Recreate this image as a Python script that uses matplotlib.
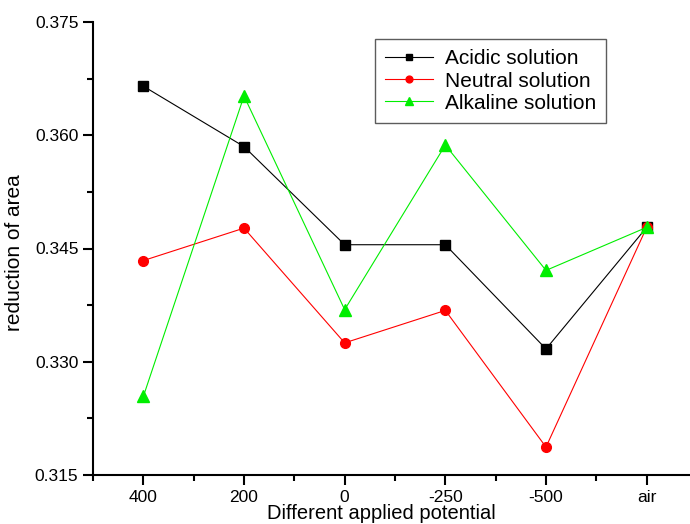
import matplotlib
matplotlib.use('Agg')
import matplotlib.pyplot as plt
from matplotlib.ticker import MultipleLocator, FormatStrFormatter
import numpy as np

plt.rcParams['font.family'] = ['Liberation Sans', 'DejaVu Sans']

potentials = ['400', '200', '0', '-250', '-500', 'air']
acidic = [0.3665, 0.3585, 0.3455, 0.3455, 0.3317, 0.3478]
neutral = [0.3434, 0.3477, 0.3325, 0.3368, 0.3187, 0.3478]
alkaline = [0.3254, 0.3652, 0.3369, 0.3587, 0.3421, 0.3478]

x = np.arange(1, len(potentials) + 1)

fig = plt.figure(figsize=(6.9, 5.24), dpi=100)
ax = fig.add_axes([93 / 690, 1 - 475 / 524, (697 - 93) / 690, (475 - 22) / 524])

ax.plot(x, acidic, color='black', lw=0.8, marker='s', ms=6.5, label='Acidic solution')
ax.plot(x, neutral, color='red', lw=0.8, marker='o', ms=7, label='Neutral solution')
ax.plot(x, alkaline, color='#00ee00', lw=0.8, marker='^', ms=8, label='Alkaline solution')

ax.set_xlim(0.5, 6.5)
ax.set_ylim(0.315, 0.375)
ax.set_xticks(x)
ax.set_xticklabels(potentials)
ax.xaxis.set_minor_locator(MultipleLocator(0.5))
ax.yaxis.set_major_locator(MultipleLocator(0.015))
ax.yaxis.set_minor_locator(MultipleLocator(0.0075))
ax.yaxis.set_major_formatter(FormatStrFormatter('%.3f'))

ax.spines['top'].set_visible(False)
ax.spines['right'].set_visible(False)
ax.spines['left'].set_linewidth(1.5)
ax.spines['bottom'].set_linewidth(1.5)
ax.tick_params(which='major', direction='out', length=7, width=1.5, labelsize=12.5)
ax.tick_params(which='minor', direction='out', length=4, width=1.5)

ax.set_xlabel('Different applied potential', fontsize=14.5, va='bottom')
ax.xaxis.set_label_coords((381 - 93) / 604, -(523 - 475) / 453)
ax.set_ylabel('reduction of area', fontsize=15)
ax.yaxis.set_label_coords(-0.115, 0.49)

leg = ax.legend(loc='upper left', bbox_to_anchor=((375 - 93) / 604, 1 - (39 - 22) / 453),
                fontsize=15, frameon=True, fancybox=False, edgecolor='#333333',
                handlelength=2.3, borderpad=0.5, labelspacing=0.15, handletextpad=0.55,
                borderaxespad=0, markerscale=0.7)
leg.get_frame().set_linewidth(1.0)

fig.savefig('out.png', dpi=100)
